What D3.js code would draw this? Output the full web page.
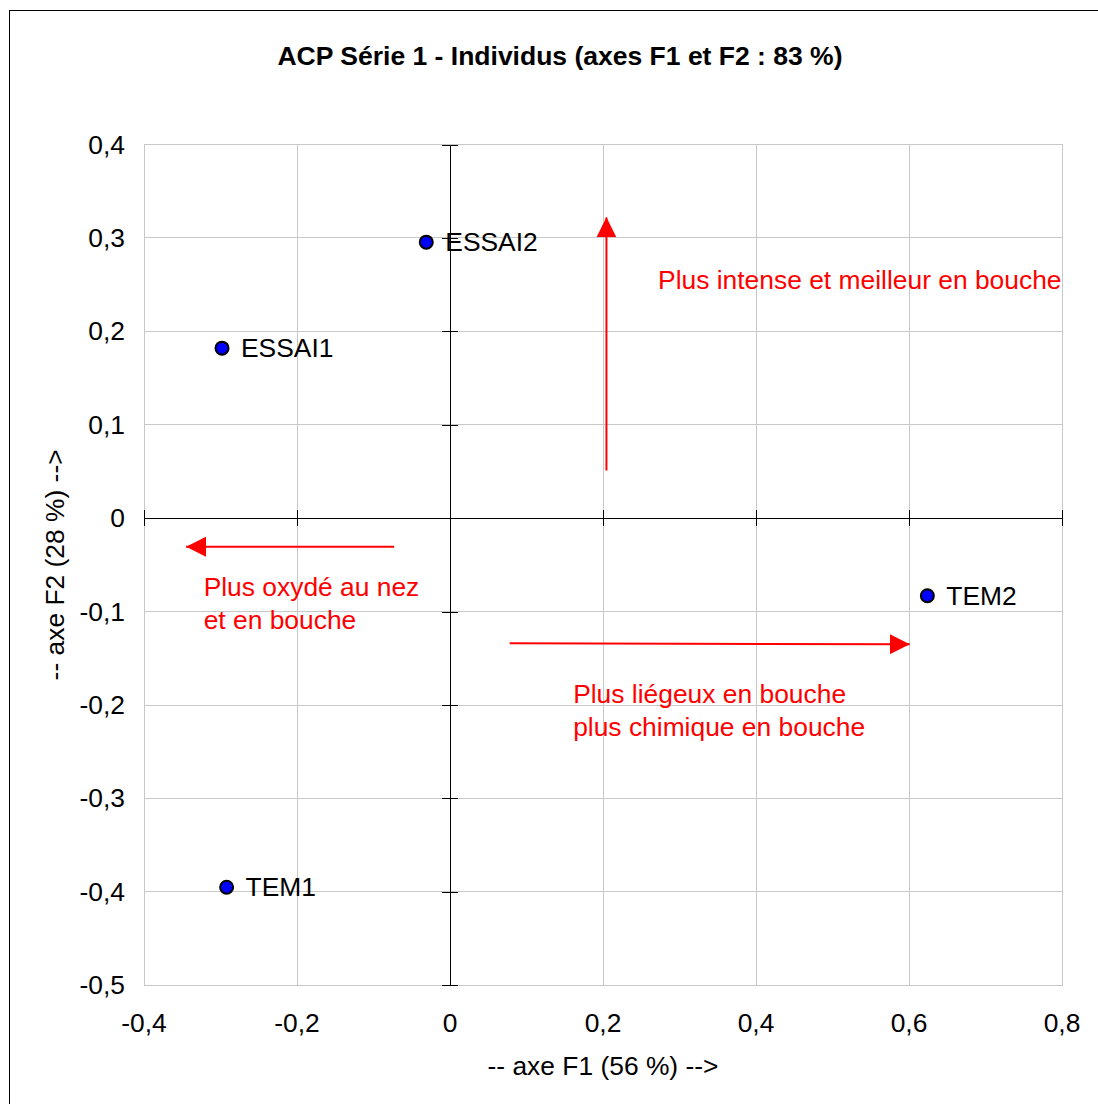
<!DOCTYPE html>
<html>
<head>
<meta charset="utf-8">
<script src="https://cdn.jsdelivr.net/npm/d3@7/dist/d3.min.js"></script>
<style>
  html, body { margin: 0; padding: 0; background: #fff; }
  svg { display: block; font-family: "Liberation Sans", Arial, sans-serif; }
</style>
</head>
<body>
<svg id="chart" width="1098" height="1104"></svg>
<script>
// ---- Data ----
const labels = ["ESSAI2", "ESSAI1", "TEM1", "TEM2"];
const f1Values = [-0.031, -0.298, -0.292, 0.624];
const f2Values = [0.2955, 0.182, -0.395, -0.083];

const xTicks = [-0.4, -0.2, 0, 0.2, 0.4, 0.6, 0.8];
const yTicks = [0.4, 0.3, 0.2, 0.1, 0, -0.1, -0.2, -0.3, -0.4, -0.5];

const titleText = "ACP Série 1 - Individus (axes F1 et F2 : 83 %)";
const xTitle = "-- axe F1 (56 %) -->";
const yTitle = "-- axe F2 (28 %) -->";

// annotation arrows in data units: [x, y]
const arrowStarts = [[0.2045, 0.051], [-0.073, -0.0305], [0.078, -0.134]];
const arrowEnds   = [[0.2045, 0.322], [-0.345, -0.0305], [0.601, -0.135]];
// annotation texts in data units
const noteTexts = [["Plus intense et meilleur en bouche"],
                   ["Plus oxydé au nez", "et en bouche"],
                   ["Plus liégeux en bouche", "plus chimique en bouche"]];
const noteAnchors = [[0.272, 0.2455], [-0.322, -0.0835], [0.161, -0.1975]];

// ---- Layout ----
const svg = d3.select("#chart");
const W = 1098, H = 1104;
const plot = { left: 144, right: 1062, top: 144.5, bottom: 985.3 };
const FS = 26.4;

const x = d3.scaleLinear().domain([-0.4, 0.8]).range([plot.left, plot.right]);
const y = d3.scaleLinear().domain([-0.5, 0.4]).range([plot.bottom, plot.top]);
const fmt = v => (v === 0 ? "0" : d3.format(".1f")(v).replace(".", ",").replace("−", "-"));

// outer frame
svg.append("rect").attr("x", 9.5).attr("y", 10.5).attr("width", W + 10).attr("height", H + 10)
  .attr("fill", "#fff").attr("stroke", "#000").attr("stroke-width", 1);

// title
svg.append("text").attr("x", 560).attr("y", 65).attr("text-anchor", "middle")
  .attr("font-size", 26.5).attr("font-weight", "bold").attr("fill", "#000").text(titleText);

// gridlines
const grid = svg.append("g").attr("stroke", "#c8c8c8").attr("stroke-width", 1).attr("shape-rendering", "crispEdges");
grid.selectAll(".gx").data(xTicks).join("line")
  .attr("x1", d => x(d)).attr("x2", d => x(d)).attr("y1", plot.top).attr("y2", plot.bottom);
grid.selectAll(".gy").data(yTicks).join("line")
  .attr("x1", plot.left).attr("x2", plot.right).attr("y1", d => y(d)).attr("y2", d => y(d));
svg.append("rect").attr("x", plot.left).attr("y", plot.top)
  .attr("width", plot.right - plot.left).attr("height", plot.bottom - plot.top)
  .attr("fill", "none").attr("stroke", "#c8c8c8").attr("shape-rendering", "crispEdges");

// axes through zero using d3 axis
const xAxis = d3.axisBottom(x).tickValues(xTicks).tickSize(16).tickFormat("");
const gx = svg.append("g").attr("transform", `translate(0,${y(0) - 8})`).call(xAxis);
gx.select(".domain").remove();
gx.selectAll(".tick line").attr("stroke", "#000").attr("shape-rendering", "crispEdges");
svg.append("line").attr("x1", plot.left).attr("x2", plot.right).attr("y1", y(0)).attr("y2", y(0))
  .attr("stroke", "#000").attr("shape-rendering", "crispEdges");

const yAxis = d3.axisRight(y).tickValues(yTicks).tickSize(16).tickFormat("");
const gy = svg.append("g").attr("transform", `translate(${x(0) - 8},0)`).call(yAxis);
gy.select(".domain").remove();
gy.selectAll(".tick line").attr("stroke", "#000").attr("shape-rendering", "crispEdges");
svg.append("line").attr("x1", x(0)).attr("x2", x(0)).attr("y1", plot.top).attr("y2", plot.bottom)
  .attr("stroke", "#000").attr("shape-rendering", "crispEdges");

// tick labels
svg.append("g").selectAll("text").data(xTicks).join("text")
  .attr("x", d => x(d)).attr("y", 1032).attr("text-anchor", "middle")
  .attr("font-size", FS).attr("fill", "#000").text(fmt);
svg.append("g").selectAll("text").data(yTicks).join("text")
  .attr("x", 125).attr("y", d => y(d) + 9).attr("text-anchor", "end")
  .attr("font-size", FS).attr("fill", "#000").text(fmt);

// axis titles
svg.append("text").attr("x", (plot.left + plot.right) / 2).attr("y", 1075).attr("text-anchor", "middle")
  .attr("font-size", FS).attr("fill", "#000").text(xTitle);
svg.append("text").attr("transform", `translate(64,${(plot.top + plot.bottom) / 2}) rotate(-90)`)
  .attr("text-anchor", "middle").attr("font-size", FS).attr("fill", "#000").text(yTitle);

// arrows
const defs = svg.append("defs");
defs.append("marker").attr("id", "head").attr("viewBox", "0 0 20 20")
  .attr("refX", 20).attr("refY", 10).attr("markerWidth", 20).attr("markerHeight", 20)
  .attr("markerUnits", "userSpaceOnUse").attr("orient", "auto")
  .append("path").attr("d", "M0,0 L20,10 L0,20 Z").attr("fill", "#ff0000");
svg.append("g").selectAll("line").data(arrowStarts).join("line")
  .attr("x1", d => x(d[0])).attr("y1", d => y(d[1]))
  .attr("x2", (d, i) => x(arrowEnds[i][0])).attr("y2", (d, i) => y(arrowEnds[i][1]))
  .attr("stroke", "#ff0000").attr("stroke-width", 2).attr("marker-end", "url(#head)");

// annotation texts
noteTexts.forEach((lines, i) => {
  const t = svg.append("text").attr("x", x(noteAnchors[i][0])).attr("y", y(noteAnchors[i][1]))
    .attr("font-size", FS).attr("fill", "#ff0000");
  lines.forEach((ln, j) => {
    t.append("tspan").attr("x", x(noteAnchors[i][0])).attr("dy", j === 0 ? 0 : 33).text(ln);
  });
});

// points
const pts = labels.map((l, i) => ({ label: l, f1: f1Values[i], f2: f2Values[i] }));
svg.append("g").selectAll("circle").data(pts).join("circle")
  .attr("cx", d => x(d.f1)).attr("cy", d => y(d.f2)).attr("r", 6.5)
  .attr("fill", "#0000ff").attr("stroke", "#000").attr("stroke-width", 2);
svg.append("g").selectAll("text").data(pts).join("text")
  .attr("x", d => x(d.f1) + 19).attr("y", d => y(d.f2) + 9)
  .attr("font-size", FS).attr("fill", "#000").text(d => d.label);
</script>
</body>
</html>
